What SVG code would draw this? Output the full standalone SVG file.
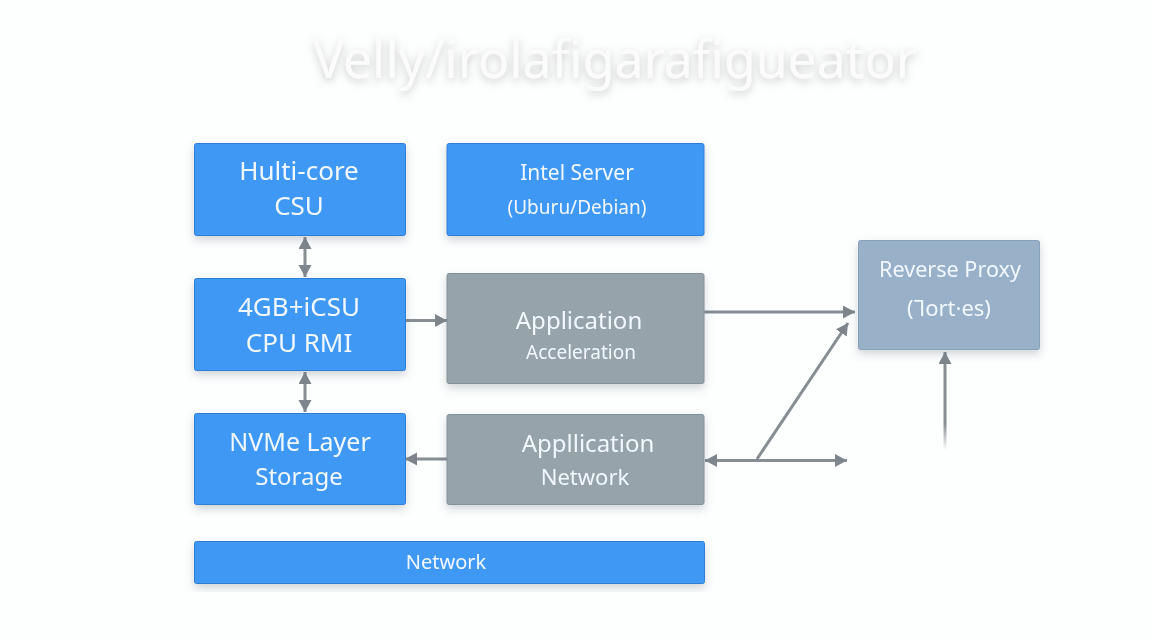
<svg xmlns="http://www.w3.org/2000/svg" width="1152" height="640" viewBox="0 0 1152 640">
<defs>
<filter id="sh" x="-10%" y="-15%" width="120%" height="135%"><feDropShadow dx="0" dy="4" stdDeviation="4" flood-color="#5a6a78" flood-opacity="0.28"/></filter>
<filter id="ts" x="-5%" y="-30%" width="110%" height="170%"><feDropShadow dx="0" dy="3" stdDeviation="4" flood-color="#777" flood-opacity="0.4"/></filter>
<linearGradient id="fade" gradientUnits="userSpaceOnUse" x1="0" y1="362" x2="0" y2="450"><stop offset="0" stop-color="#868d93"/><stop offset="0.7" stop-color="#868d93"/><stop offset="1" stop-color="#868d93" stop-opacity="0"/></linearGradient>
<marker id="a" markerUnits="userSpaceOnUse" markerWidth="14" markerHeight="14" refX="12" refY="6.5" orient="auto-start-reverse"><path d="M0 0L12 6.5L0 13z" fill="#7e858c"/></marker>
</defs>
<style>
text{font-family:"Noto Sans","Open Sans",sans-serif;text-anchor:middle;fill:#f2f8ff}
.blue{fill:#4198f5;stroke:#2f7fd3;stroke-width:1}
.gray{fill:#97a3ab;stroke:#85919a;stroke-width:1}
.proxy{fill:#98b1c9;stroke:#88a2bb;stroke-width:1}
.c{fill:none;stroke:#868d93;stroke-width:3}
</style>
<rect width="1152" height="640" fill="#fdfefe"/>
<text id="title" x="615" y="78" font-size="52" style="fill:#fbfbfb" filter="url(#ts)" textLength="604" lengthAdjust="spacingAndGlyphs">Velly/irolafigarafigueator</text>
<g id="connectors">
<path class="c" d="M305 237V277" marker-start="url(#a)" marker-end="url(#a)"/>
<path class="c" d="M305 372V412" marker-start="url(#a)" marker-end="url(#a)"/>
<path class="c" d="M406 320.500H447" marker-end="url(#a)"/>
<path class="c" d="M447 459H405" marker-end="url(#a)"/>
<path class="c" d="M704 312H855" marker-end="url(#a)"/>
<path class="c" d="M705 460.500H847" marker-start="url(#a)" marker-end="url(#a)"/>
<path class="c" d="M757 459L848 323" marker-end="url(#a)"/>
<path d="M945 450V352" fill="none" stroke="url(#fade)" stroke-width="3" marker-end="url(#a)"/>
</g>
<g id="multi-core" filter="url(#sh)"><rect class="blue" x="194.500" y="143.500" width="211" height="92" rx="2"/><text x="299" y="180" font-size="26">Hulti-core</text><text x="299" y="215" font-size="26">CSU</text></g>
<g id="intel-server" filter="url(#sh)"><rect class="blue" x="447" y="143.500" width="257" height="92" rx="2"/><text x="577" y="180" font-size="21">Intel Server</text><text x="577" y="214" font-size="19">(Uburu/Debian)</text></g>
<g id="cpu-rmi" filter="url(#sh)"><rect class="blue" x="194.500" y="278.500" width="211" height="92" rx="2"/><text x="299" y="316" font-size="26">4GB+iCSU</text><text x="299" y="352" font-size="26">CPU RMI</text></g>
<g id="app-acceleration" filter="url(#sh)"><rect class="gray" x="447" y="273.500" width="257" height="110" rx="2"/><text x="579" y="329" font-size="24">Application</text><text x="581" y="359" font-size="19">Acceleration</text></g>
<g id="nvme" filter="url(#sh)"><rect class="blue" x="194.500" y="413.500" width="211" height="91" rx="2"/><text x="300" y="451" font-size="25">NVMe Layer</text><text x="299" y="485" font-size="24">Storage</text></g>
<g id="app-network" filter="url(#sh)"><rect class="gray" x="447" y="414.500" width="257" height="90" rx="2"/><text x="588" y="452" font-size="24">Appllication</text><text x="585" y="485" font-size="22">Network</text></g>
<g id="network" filter="url(#sh)"><rect class="blue" x="194.500" y="541.500" width="510" height="42" rx="2"/><text x="446" y="569" font-size="20">Network</text></g>
<g id="reverse-proxy" filter="url(#sh)"><rect class="proxy" x="858.500" y="240.500" width="181" height="109" rx="2"/><text x="950" y="277" font-size="22" textLength="142" lengthAdjust="spacingAndGlyphs">Reverse Proxy</text><text x="949" y="316" font-size="22">(Ꞁort·es)</text></g>
</svg>
